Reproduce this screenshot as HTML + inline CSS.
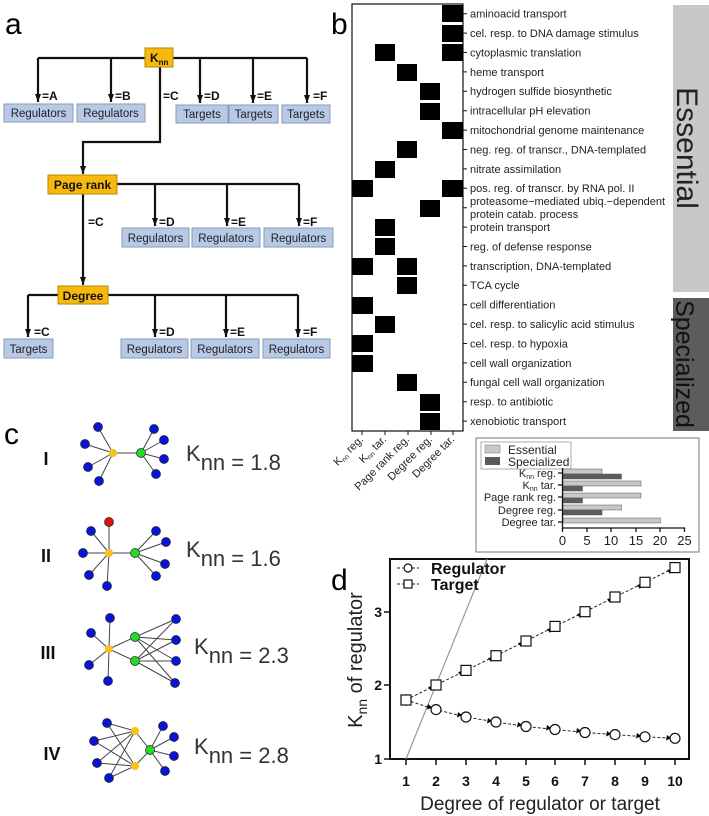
<!DOCTYPE html>
<html><head><meta charset="utf-8"><style>
html,body{margin:0;padding:0;background:#fff}
svg{display:block;font-family:"Liberation Sans",Arial,sans-serif}
</style></head><body>
<svg width="709" height="816" viewBox="0 0 709 816" xmlns="http://www.w3.org/2000/svg">
<defs>
<marker id="ah" markerWidth="9" markerHeight="8" refX="8" refY="4" orient="auto" markerUnits="userSpaceOnUse"><path d="M0,1 L8,4 L0,7 Z" fill="#111"/></marker>
</defs>
<rect width="709" height="816" fill="#fff"/>

<!-- Panel a -->
<text x="5" y="34" font-size="30">a</text>
<g stroke="#111" stroke-width="2.2" fill="none">
<path d="M38,58 H307"/>
<path d="M38,58 V102" marker-end="url(#ah)"/>
<path d="M111,58 V102" marker-end="url(#ah)"/>
<path d="M200,58 V103" marker-end="url(#ah)"/>
<path d="M253,58 V103" marker-end="url(#ah)"/>
<path d="M307,58 V103" marker-end="url(#ah)"/>
<path d="M160,66 V142 H83 V174" marker-end="url(#ah)"/>
<path d="M117,184 H299"/>
<path d="M155,184 V226" marker-end="url(#ah)"/>
<path d="M227,184 V226" marker-end="url(#ah)"/>
<path d="M299,184 V226" marker-end="url(#ah)"/>
<path d="M83,194 V285" marker-end="url(#ah)"/>
<path d="M28,295 H298"/>
<path d="M28,295 V337" marker-end="url(#ah)"/>
<path d="M155,295 V337" marker-end="url(#ah)"/>
<path d="M226,295 V337" marker-end="url(#ah)"/>
<path d="M298,295 V337" marker-end="url(#ah)"/>
</g>
<g fill="#f7b90e" stroke="#b58a00" stroke-width="1">
<rect x="145" y="48" width="28" height="19"/>
<rect x="48" y="175" width="69" height="19"/>
<rect x="58" y="286" width="50" height="18"/>
</g>
<g font-weight="bold" fill="#111">
<text x="150" y="62" font-size="12">K<tspan font-size="8" dy="3">nn</tspan></text>
<text x="82.5" y="189" font-size="12" text-anchor="middle">Page rank</text>
<text x="83" y="300" font-size="12" text-anchor="middle">Degree</text>
</g>
<g font-weight="bold" font-size="12" fill="#111">
<text x="42" y="100">=A</text><text x="115" y="100">=B</text><text x="163" y="100">=C</text>
<text x="204" y="100">=D</text><text x="257" y="100">=E</text><text x="313" y="100">=F</text>
<text x="88" y="226">=C</text>
<text x="159" y="226">=D</text><text x="231" y="226">=E</text><text x="303" y="226">=F</text>
<text x="34" y="336">=C</text>
<text x="159" y="336">=D</text><text x="230" y="336">=E</text><text x="303" y="336">=F</text>
</g>
<g fill="#b7c9e6" stroke="#8a9ab5" stroke-width="1">
<rect x="4" y="104" width="69" height="18"/><rect x="77" y="104" width="68" height="18"/>
<rect x="176" y="105" width="52" height="18"/><rect x="229" y="105" width="49" height="18"/><rect x="282" y="105" width="48" height="18"/>
<rect x="122" y="228" width="67" height="19"/><rect x="192" y="228" width="68" height="19"/><rect x="264" y="228" width="69" height="19"/>
<rect x="4" y="339" width="49" height="19"/>
<rect x="121" y="339" width="67" height="19"/><rect x="191" y="339" width="68" height="19"/><rect x="263" y="339" width="67" height="19"/>
</g>
<g font-size="11.5" fill="#222" text-anchor="middle">
<text x="38.5" y="117">Regulators</text><text x="111" y="117">Regulators</text>
<text x="202" y="118">Targets</text><text x="253.5" y="118">Targets</text><text x="306" y="118">Targets</text>
<text x="155.5" y="242">Regulators</text><text x="226" y="242">Regulators</text><text x="298.5" y="242">Regulators</text>
<text x="28.5" y="353">Targets</text>
<text x="154.5" y="353">Regulators</text><text x="225" y="353">Regulators</text><text x="296.5" y="353">Regulators</text>
</g>

<!-- Panel b -->
<text x="331" y="34" font-size="30">b</text>
<rect x="352" y="4" width="111" height="427" fill="#fff" stroke="#111" stroke-width="1.2"/>
<g fill="#000">
<rect x="442" y="5" width="21" height="17"/>
<rect x="442" y="25" width="21" height="17"/>
<rect x="375" y="44" width="20" height="17"/><rect x="442" y="44" width="21" height="17"/>
<rect x="397" y="64" width="20" height="17"/>
<rect x="420" y="83" width="20" height="17"/>
<rect x="420" y="103" width="20" height="17"/>
<rect x="442" y="122" width="21" height="17"/>
<rect x="397" y="141" width="20" height="17"/>
<rect x="375" y="161" width="20" height="17"/>
<rect x="352" y="180" width="21" height="17"/><rect x="442" y="180" width="21" height="17"/>
<rect x="420" y="200" width="20" height="17"/>
<rect x="375" y="219" width="20" height="17"/>
<rect x="375" y="238" width="20" height="17"/>
<rect x="352" y="258" width="21" height="17"/><rect x="397" y="258" width="20" height="17"/>
<rect x="397" y="277" width="20" height="17"/>
<rect x="352" y="297" width="21" height="17"/>
<rect x="375" y="316" width="20" height="17"/>
<rect x="352" y="335" width="21" height="17"/>
<rect x="352" y="355" width="21" height="17"/>
<rect x="397" y="374" width="20" height="17"/>
<rect x="420" y="394" width="20" height="17"/>
<rect x="420" y="413" width="20" height="17"/>
</g>
<g stroke="#111" stroke-width="1">
<path d="M463,13.7h4M463,33.1h4M463,52.5h4M463,71.9h4M463,91.3h4M463,110.7h4M463,130.1h4M463,149.5h4M463,168.9h4M463,188.3h4M463,207.7h4M463,227.1h4M463,246.5h4M463,265.9h4M463,285.3h4M463,304.7h4M463,324.1h4M463,343.5h4M463,362.9h4M463,382.3h4M463,401.7h4M463,421.1h4"/>
<path d="M362,431v4M385,431v4M408,431v4M431,431v4M453,431v4"/>
</g>
<g font-size="11" fill="#222">
<text x="470" y="17.5">aminoacid transport</text>
<text x="470" y="37">cel. resp. to DNA damage stimulus</text>
<text x="470" y="56.5">cytoplasmic translation</text>
<text x="470" y="76">heme transport</text>
<text x="470" y="95">hydrogen sulfide biosynthetic</text>
<text x="470" y="114.5">intracellular pH elevation</text>
<text x="470" y="134">mitochondrial genome maintenance</text>
<text x="470" y="153.5">neg. reg. of transcr., DNA-templated</text>
<text x="470" y="173">nitrate assimilation</text>
<text x="470" y="192">pos. reg. of transcr. by RNA pol. II</text>
<text x="470" y="205">proteasome−mediated ubiq.−dependent</text>
<text x="470" y="218">protein catab. process</text>
<text x="470" y="231">protein transport</text>
<text x="470" y="250.5">reg. of defense response</text>
<text x="470" y="270">transcription, DNA-templated</text>
<text x="470" y="289">TCA cycle</text>
<text x="470" y="308.5">cell differentiation</text>
<text x="470" y="328">cel. resp. to salicylic acid stimulus</text>
<text x="470" y="347.5">cel. resp. to hypoxia</text>
<text x="470" y="367">cell wall organization</text>
<text x="470" y="386">fungal cell wall organization</text>
<text x="470" y="405.5">resp. to antibiotic</text>
<text x="470" y="425">xenobiotic transport</text>
</g>
<g font-size="11" fill="#222" text-anchor="end">
<text transform="translate(364,440) rotate(-45)">K<tspan font-size="7" dy="2">nn</tspan><tspan dy="-2"> reg.</tspan></text>
<text transform="translate(387,440) rotate(-45)">K<tspan font-size="7" dy="2">nn</tspan><tspan dy="-2"> tar.</tspan></text>
<text transform="translate(410,440) rotate(-45)">Page rank reg.</text>
<text transform="translate(433,440) rotate(-45)">Degree reg.</text>
<text transform="translate(455,440) rotate(-45)">Degree tar.</text>
</g>
<rect x="673" y="5" width="36" height="287" fill="#c8c8c8"/>
<rect x="673" y="298" width="36" height="133" fill="#5c5c5c"/>
<text transform="translate(677,148) rotate(90)" font-size="30" text-anchor="middle" fill="#222">Essential</text>
<text transform="translate(676,364) rotate(90)" font-size="25" text-anchor="middle" fill="#111">Specialized</text>

<!-- bar inset -->
<rect x="476" y="438" width="223" height="114" fill="#fff" stroke="#777" stroke-width="1"/>
<rect x="481" y="442" width="90" height="27" fill="#fff" stroke="#999" stroke-width="0.8"/>
<rect x="485" y="445" width="15" height="8" fill="#c8c8c8" stroke="#777" stroke-width="0.5"/>
<rect x="485" y="457" width="15" height="8" fill="#5c5c5c"/>
<g font-size="12" fill="#222"><text x="508" y="454">Essential</text><text x="508" y="466">Specialized</text></g>
<g stroke="#555" stroke-width="0.5">
<rect x="563" y="469" width="39" height="5" fill="#c8c8c8"/>
<rect x="563" y="474" width="58.5" height="5" fill="#5c5c5c"/>
<rect x="563" y="481" width="78" height="5" fill="#c8c8c8"/>
<rect x="563" y="486" width="19.5" height="5" fill="#5c5c5c"/>
<rect x="563" y="493" width="78" height="5" fill="#c8c8c8"/>
<rect x="563" y="498" width="19.5" height="5" fill="#5c5c5c"/>
<rect x="563" y="505" width="58.5" height="5" fill="#c8c8c8"/>
<rect x="563" y="510" width="39" height="5" fill="#5c5c5c"/>
<rect x="563" y="518" width="97.5" height="5" fill="#c8c8c8"/>
</g>
<g stroke="#111" stroke-width="1.3" fill="none">
<path d="M562.5,468 V528 H685"/>
<path d="M558,473h5M558,485h5M558,497h5M558,510h5M558,522h5"/>
<path d="M562.5,528v4M587,528v4M611,528v4M636,528v4M660,528v4M684.5,528v4"/>
</g>
<g font-size="11" fill="#222" text-anchor="end">
<text x="556" y="477">K<tspan font-size="7" dy="2">nn</tspan><tspan dy="-2"> reg.</tspan></text>
<text x="556" y="489">K<tspan font-size="7" dy="2">nn</tspan><tspan dy="-2"> tar.</tspan></text>
<text x="556" y="501">Page rank reg.</text>
<text x="556" y="514">Degree reg.</text>
<text x="556" y="526">Degree tar.</text>
</g>
<g font-size="13" fill="#222" text-anchor="middle">
<text x="562.5" y="545">0</text><text x="587" y="545">5</text><text x="611" y="545">10</text><text x="636" y="545">15</text><text x="660" y="545">20</text><text x="684.5" y="545">25</text>
</g>

<!-- Panel d -->
<text x="331" y="590" font-size="30">d</text>
<rect x="390" y="559" width="299" height="200" fill="none" stroke="#111" stroke-width="2"/>
<line x1="406" y1="759" x2="487" y2="559" stroke="#999" stroke-width="1.2"/>
<g stroke="#111" stroke-width="1.5">
<path d="M406,759v6M436,759v6M466,759v6M496,759v6M526,759v6M555,759v6M585,759v6M615,759v6M645,759v6M675,759v6"/>
<path d="M384,759h6M384,685h6M384,612h6"/>
</g>
<g font-size="14" font-weight="bold" fill="#111" text-anchor="middle">
<text x="406" y="786">1</text><text x="436" y="786">2</text><text x="466" y="786">3</text><text x="496" y="786">4</text><text x="526" y="786">5</text><text x="555" y="786">6</text><text x="585" y="786">7</text><text x="615" y="786">8</text><text x="645" y="786">9</text><text x="675" y="786">10</text>
</g>
<g font-size="14" font-weight="bold" fill="#111" text-anchor="end">
<text x="382" y="764">1</text><text x="382" y="690">2</text><text x="382" y="617">3</text>
</g>
<text x="540" y="810" font-size="19" text-anchor="middle" fill="#222">Degree of regulator or target</text>
<text transform="translate(362,660) rotate(-90)" font-size="20" text-anchor="middle" fill="#222">K<tspan font-size="14" dy="5">nn</tspan><tspan dy="-5"> of regulator</tspan></text>
<g fill="none" stroke="#222" stroke-width="1" stroke-dasharray="3,2">
<polyline points="406,700 436,709.6 466,717 496,722 526,726.5 555,729.5 585,732.5 615,734.6 645,736.8 675,738.3"/>
<polyline points="406,700 436,685 466,670.4 496,655.7 526,641 555,626.4 585,611.7 615,597 645,582.3 675,567.6"/>
<path d="M397,568h22M397,584h22"/>
</g>
<g fill="#000">
<path d="M428,704l4,3.5l-5,2z M458,712l4,3l-5,2.5z M488,718l4,3l-5,2.5z M518,722l4,3l-5,2.5z M547,725l4,3l-5,2.5z M577,728l4,3l-5,2.5z M607,731l4,3l-5,2.5z M637,733l4,3l-5,2.5z M667,735l4,3l-5,2.5z"/>
<path d="M428,687l5,-1l-2,5z M458,672l5,-1l-2,5z M488,658l5,-1l-2,5z M518,643l5,-1l-2,5z M547,629l5,-1l-2,5z M577,614l5,-1l-2,5z M607,599l5,-1l-2,5z M637,585l5,-1l-2,5z M667,570l5,-1l-2,5z"/>
</g>
<g fill="#fff" stroke="#111" stroke-width="1.2">
<circle cx="406" cy="700" r="5"/><circle cx="436" cy="709.6" r="5"/><circle cx="466" cy="717" r="5"/><circle cx="496" cy="722" r="5"/><circle cx="526" cy="726.5" r="5"/><circle cx="555" cy="729.5" r="5"/><circle cx="585" cy="732.5" r="5"/><circle cx="615" cy="734.6" r="5"/><circle cx="645" cy="736.8" r="5"/><circle cx="675" cy="738.3" r="5"/>
<rect x="401" y="695" width="10" height="10"/><rect x="431" y="680" width="10" height="10"/><rect x="461" y="665.4" width="10" height="10"/><rect x="491" y="650.7" width="10" height="10"/><rect x="521" y="636" width="10" height="10"/><rect x="550" y="621.4" width="10" height="10"/><rect x="580" y="606.7" width="10" height="10"/><rect x="610" y="592" width="10" height="10"/><rect x="640" y="577.3" width="10" height="10"/><rect x="670" y="562.6" width="10" height="10"/>
<circle cx="408" cy="568" r="4"/><rect x="404" y="580" width="8" height="8"/>
</g>
<g font-size="16" font-weight="bold" fill="#111"><text x="431" y="574">Regulator</text><text x="431" y="590">Target</text></g>

<!-- Panel c -->
<text x="4" y="444" font-size="30">c</text>
<g font-size="18" font-weight="bold" fill="#111" text-anchor="middle">
<text x="46" y="465">I</text><text x="46" y="562">II</text><text x="48" y="659">III</text><text x="52" y="760">IV</text>
</g>
<g stroke="#444" stroke-width="1">
<path d="M113,453H141 M113,453L98,427 M113,453L85,444 M113,453L88,467 M113,453L99,481 M141,453L154,429 M141,453L164,440 M141,453L164,459 M141,453L156,474"/>
<path d="M109,553H135 M109,553L109,522 M109,553L91,531 M109,553L83,553 M109,553L89,575 M109,553L107,586 M135,553L156,531 M135,553L166,542 M135,553L165,564 M135,553L156,576"/>
<path d="M109,649L110,618 M109,649L91,633 M109,649L89,665 M109,649L108,681 M109,649L135,637 M109,649L135,661 M135,637L176,619 M135,637L176,640 M135,637L176,661 M135,637L175,683 M135,661L176,619 M135,661L176,640 M135,661L176,661 M135,661L175,683"/>
<path d="M135,731L107,723 M135,731L94,741 M135,731L97,763 M135,731L109,778 M135,766L107,723 M135,766L94,741 M135,766L97,763 M135,766L109,778 M135,731L150,750 M135,766L150,750 M150,750L163,726 M150,750L174,737 M150,750L174,756 M150,750L165,771"/>
</g>
<g fill="#0a14d8" stroke="#222" stroke-width="0.7">
<circle cx="98" cy="427" r="4.5"/><circle cx="85" cy="444" r="4.5"/><circle cx="88" cy="467" r="4.5"/><circle cx="99" cy="481" r="4.5"/><circle cx="154" cy="429" r="4.5"/><circle cx="164" cy="440" r="4.5"/><circle cx="164" cy="459" r="4.5"/><circle cx="156" cy="474" r="4.5"/>
<circle cx="91" cy="531" r="4.5"/><circle cx="83" cy="553" r="4.5"/><circle cx="89" cy="575" r="4.5"/><circle cx="107" cy="586" r="4.5"/><circle cx="156" cy="531" r="4.5"/><circle cx="166" cy="542" r="4.5"/><circle cx="165" cy="564" r="4.5"/><circle cx="156" cy="576" r="4.5"/>
<circle cx="110" cy="618" r="4.5"/><circle cx="91" cy="633" r="4.5"/><circle cx="89" cy="665" r="4.5"/><circle cx="108" cy="681" r="4.5"/><circle cx="176" cy="619" r="4.5"/><circle cx="176" cy="640" r="4.5"/><circle cx="176" cy="661" r="4.5"/><circle cx="175" cy="683" r="4.5"/>
<circle cx="107" cy="723" r="4.5"/><circle cx="94" cy="741" r="4.5"/><circle cx="97" cy="763" r="4.5"/><circle cx="109" cy="778" r="4.5"/><circle cx="163" cy="726" r="4.5"/><circle cx="174" cy="737" r="4.5"/><circle cx="174" cy="756" r="4.5"/><circle cx="165" cy="771" r="4.5"/>
</g>
<circle cx="109" cy="522" r="4.5" fill="#e01010" stroke="#222" stroke-width="0.7"/>
<g fill="#f8c21a"><circle cx="113" cy="453" r="4"/><circle cx="109" cy="553" r="4"/><circle cx="109" cy="649" r="4"/><circle cx="135" cy="731" r="4"/><circle cx="135" cy="766" r="4"/></g>
<g fill="#22dd22" stroke="#222" stroke-width="0.7"><circle cx="141" cy="453" r="4.5"/><circle cx="135" cy="553" r="4.5"/><circle cx="135" cy="637" r="4.5"/><circle cx="135" cy="661" r="4.5"/><circle cx="150" cy="750" r="4.5"/></g>
<g fill="#333" font-size="22">
<text x="186" y="461">K<tspan dy="9">nn = 1.8</tspan></text>
<text x="186" y="557">K<tspan dy="9">nn = 1.6</tspan></text>
<text x="194" y="654">K<tspan dy="9">nn = 2.3</tspan></text>
<text x="194" y="754">K<tspan dy="9">nn = 2.8</tspan></text>
</g>
</svg>
</body></html>
